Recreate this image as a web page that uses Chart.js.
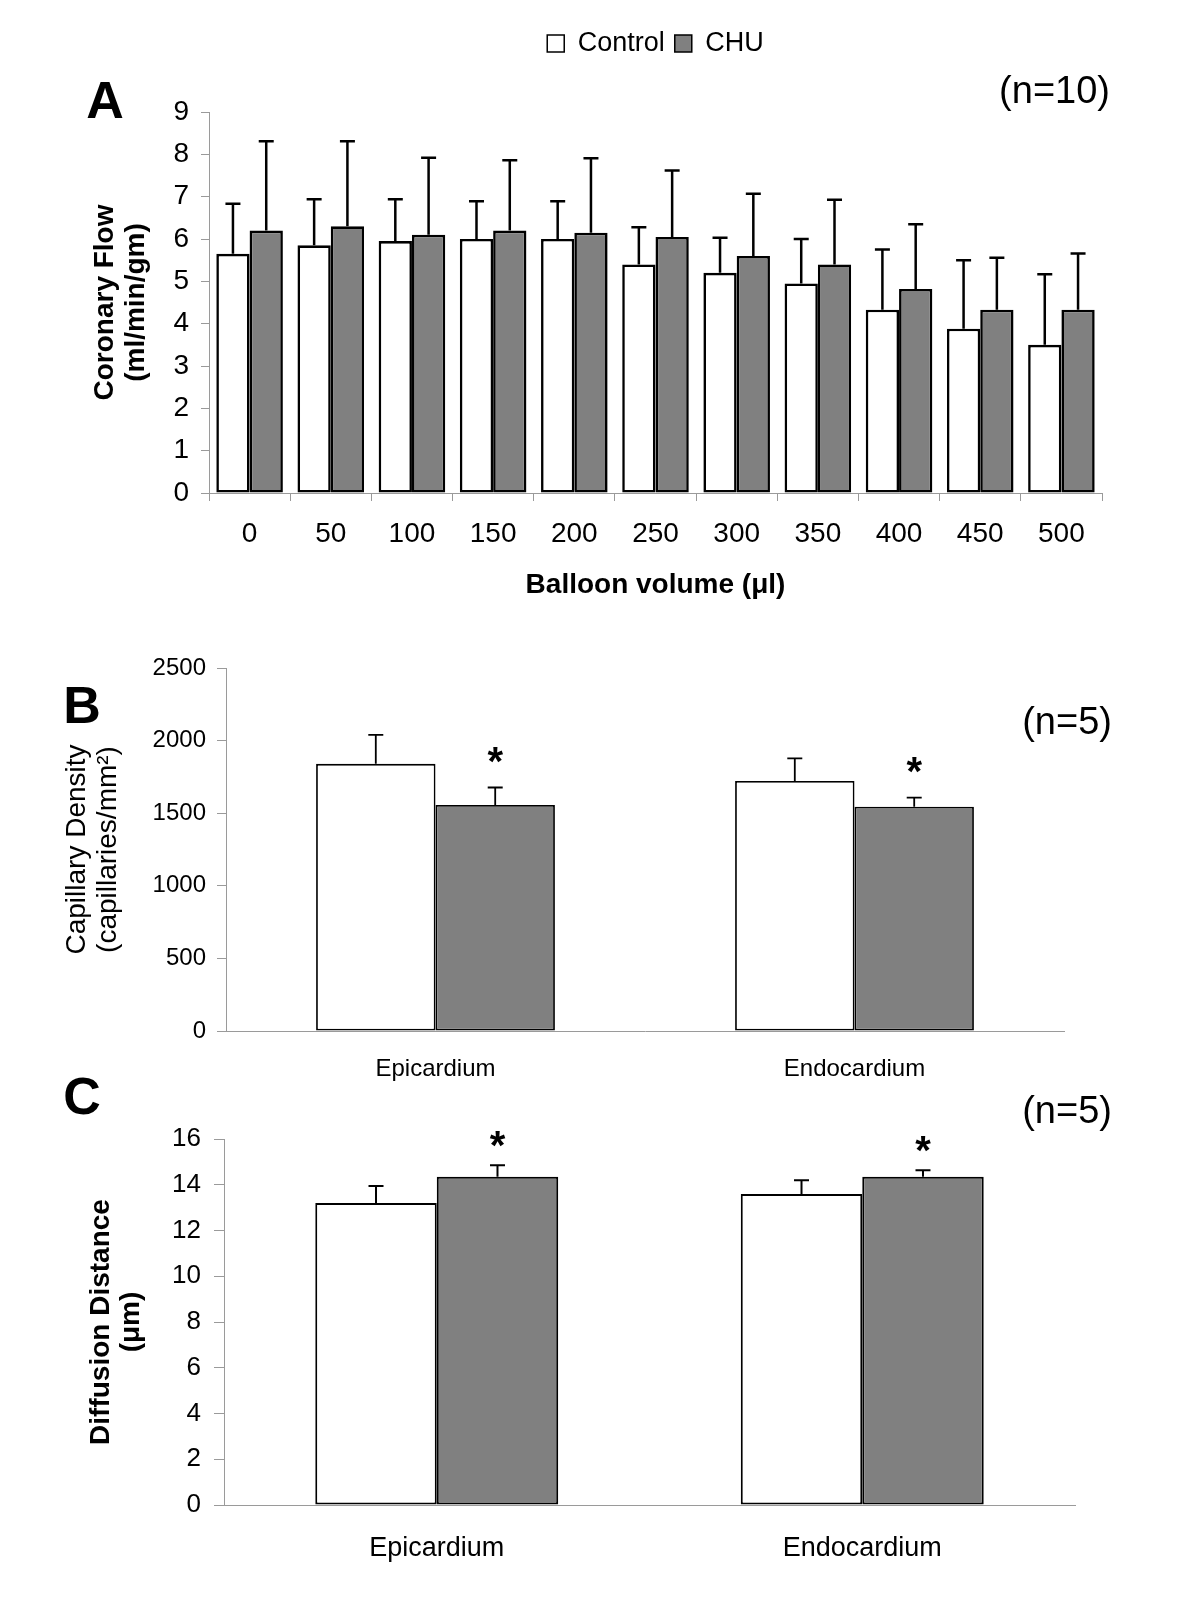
<!DOCTYPE html>
<html>
<head>
<meta charset="utf-8">
<script src="https://cdn.jsdelivr.net/npm/chart.js@4.4.0/dist/chart.umd.min.js"></script>
<style>
  body { margin: 0; background: #fff; }
  #fig { position: relative; width: 1200px; height: 1600px; font-family: "Liberation Sans", Arial, sans-serif; }
  .panel { position: absolute; left: 0; width: 1200px; }
  .txt { position: absolute; line-height: 1; color: #000; white-space: nowrap; }
  .letter { font-weight: bold; font-size: 52px; transform: translate(-50%, -50%); }
  .n { font-size: 38px; transform: translate(-100%, -50%); }
</style>
</head>
<body>
<div id="fig">
  <div class="panel" style="top:0;height:620px"><canvas id="chartA"></canvas></div>
  <div class="panel" style="top:620px;height:470px"><canvas id="chartB"></canvas></div>
  <div class="panel" style="top:1090px;height:510px"><canvas id="chartC"></canvas></div>

  <div class="txt letter" style="left:105px;top:100px">A</div>
  <div class="txt n" style="left:1110px;top:90px">(n=10)</div>
  <div class="txt letter" style="left:82px;top:705px">B</div>
  <div class="txt n" style="left:1112px;top:721px">(n=5)</div>
  <div class="txt letter" style="left:82px;top:1096px">C</div>
  <div class="txt n" style="left:1112px;top:1110px">(n=5)</div>
</div>
<script>
// panel A - coronary flow vs balloon volume
const balloonVolumes = ['0', '50', '100', '150', '200', '250', '300', '350', '400', '450', '500'];
const flowControl = [5.65, 5.85, 5.95, 6.0, 6.0, 5.4, 5.2, 4.95, 4.33, 3.88, 3.5];
const flowControlSem = [1.18, 1.09, 0.99, 0.89, 0.89, 0.88, 0.83, 1.05, 1.42, 1.62, 1.67];
const flowChu = [6.2, 6.3, 6.1, 6.2, 6.15, 6.05, 5.6, 5.4, 4.82, 4.33, 4.33];
const flowChuSem = [2.11, 2.01, 1.82, 1.66, 1.76, 1.57, 1.47, 1.53, 1.53, 1.23, 1.33];

// panel B - capillary density
const layers = ['Epicardium', 'Endocardium'];
const capControl = [1840, 1722];
const capControlSem = [200, 155];
const capChu = [1557, 1545];
const capChuSem = [120, 62];
const capChuStars = ['*', '*'];

// panel C - diffusion distance
const diffControl = [13.2, 13.6];
const diffControlSem = [0.74, 0.6];
const diffChu = [14.35, 14.35];
const diffChuSem = [0.5, 0.28];
const diffChuStars = ['*', '*'];

const FONT = '"Liberation Sans", Arial, sans-serif';
const AXIS_GREY = '#9a9a9a';
const CHU_GREY = '#808080';

Chart.defaults.font.family = FONT;
Chart.defaults.color = '#000';

// draws the upper SEM whisker (and the * if any) over each bar
const errorBars = {
  id: 'errorBars',
  afterDatasetsDraw(chart, args, opts) {
    const ctx = chart.ctx;
    const yScale = chart.scales.y;
    chart.data.datasets.forEach(function (ds, i) {
      if (!ds.sem) return;
      chart.getDatasetMeta(i).data.forEach(function (bar, j) {
        const top = yScale.getPixelForValue(ds.data[j] + ds.sem[j]);
        ctx.save();
        ctx.strokeStyle = '#000';
        ctx.lineWidth = opts.width;
        ctx.beginPath();
        ctx.moveTo(bar.x, bar.y);
        ctx.lineTo(bar.x, top);
        ctx.moveTo(bar.x - opts.cap / 2, top);
        ctx.lineTo(bar.x + opts.cap / 2, top);
        ctx.stroke();
        if (ds.stars && ds.stars[j]) {
          ctx.fillStyle = '#000';
          ctx.font = 'bold ' + opts.starSize + 'px ' + FONT;
          ctx.textAlign = 'center';
          ctx.textBaseline = 'alphabetic';
          // star sits at a fixed height over the plot when starY is given
          const cy = opts.starY !== undefined ? yScale.getPixelForValue(opts.starY[j]) : top - opts.starGap;
          ctx.fillText(ds.stars[j], bar.x, cy + 0.58 * opts.starSize);
        }
        ctx.restore();
      });
    });
  }
};

// legend sits high above the plot, so give it a fixed height
const LEGEND_HEIGHT = 92;
const legendGap = {
  id: 'legendGap',
  afterInit(chart) {
    const lg = chart.legend;
    if (!lg) return;
    const fit = lg.fit;
    lg.fit = function () {
      fit.call(this);
      this.height = LEGEND_HEIGHT;
    };
  }
};

function bars(label, data, sem, fill, width, stars) {
  return {
    label: label,
    data: data,
    sem: sem,
    stars: stars,
    backgroundColor: fill,
    borderColor: '#000',
    borderWidth: width,
    borderSkipped: false
  };
}

function yAxis(min, max, step, tickSize, tickLen, pad, title, titleBold, lineHeight, width) {
  return {
    min: min,
    max: max,
    ticks: {
      stepSize: step,
      color: '#000',
      font: {size: tickSize},
      padding: pad,
      callback: function (v) { return String(v); }
    },
    grid: {drawOnChartArea: false, drawTicks: true, tickLength: tickLen, color: AXIS_GREY},
    border: {color: AXIS_GREY, width: 1},
    title: {
      display: true,
      text: title,
      color: '#000',
      padding: 0,
      font: {size: 28, weight: titleBold ? 'bold' : 'normal', lineHeight: lineHeight}
    },
    afterFit: function (axis) { axis.width = width; }
  };
}

// A
new Chart(document.getElementById('chartA'), {
  type: 'bar',
  data: {
    labels: balloonVolumes,
    datasets: [
      bars('Control', flowControl, flowControlSem, '#fff', 2.6),
      bars('CHU', flowChu, flowChuSem, CHU_GREY, 2.6)
    ]
  },
  options: {
    responsive: true,
    maintainAspectRatio: false,
    animation: false,
    categoryPercentage: 0.82,
    barPercentage: 1.0,
    layout: {padding: {left: 90, right: 98, top: 20, bottom: 18}},
    plugins: {
      legend: {
        display: true,
        position: 'top',
        fullSize: false,
        labels: {
          boxWidth: 17,
          boxHeight: 17,
          padding: 10,
          color: '#000',
          font: {size: 27},
          generateLabels: function (chart) {
            return Chart.defaults.plugins.legend.labels.generateLabels(chart).map(function (l) {
              l.lineWidth = 1.5;
              return l;
            });
          }
        }
      },
      tooltip: {enabled: false},
      errorBars: {width: 2.5, cap: 15}
    },
    scales: {
      x: {
        ticks: {color: '#000', font: {size: 28}, padding: 16},
        grid: {drawOnChartArea: false, drawTicks: true, tickLength: 8, color: AXIS_GREY, offset: true},
        border: {color: AXIS_GREY},
        title: {display: true, text: 'Balloon volume (μl)', color: '#000', padding: 0, font: {size: 28, weight: 'bold'}},
        afterFit: function (axis) { axis.height = 109; }
      },
      y: yAxis(0, 9, 1, 28, 8, 12, ['Coronary Flow', '(ml/min/gm)'], true, 1.1, 119)
    }
  },
  plugins: [errorBars, legendGap]
});

// B
new Chart(document.getElementById('chartB'), {
  type: 'bar',
  data: {
    labels: layers,
    datasets: [
      bars('Control', capControl, capControlSem, '#fff', 1.8),
      bars('CHU', capChu, capChuSem, CHU_GREY, 1.8, capChuStars)
    ]
  },
  options: {
    responsive: true,
    maintainAspectRatio: false,
    animation: false,
    categoryPercentage: 0.57,
    barPercentage: 1.0,
    layout: {padding: {left: 62, right: 136, top: 48, bottom: 0}},
    plugins: {
      legend: {display: false},
      tooltip: {enabled: false},
      errorBars: {width: 1.8, cap: 15, starSize: 40, starGap: 36}
    },
    scales: {
      x: {
        ticks: {color: '#000', font: {size: 24}, padding: 24},
        grid: {display: false, drawTicks: false},
        border: {display: true, color: AXIS_GREY},
        afterFit: function (axis) { axis.height = 59; }
      },
      y: yAxis(0, 2500, 500, 24, 9, 11, ['Capillary Density', '(capillaries/mm²)'], false, 1.1, 164)
    }
  },
  plugins: [errorBars]
});

// C
new Chart(document.getElementById('chartC'), {
  type: 'bar',
  data: {
    labels: layers,
    datasets: [
      bars('Control', diffControl, diffControlSem, '#fff', 2),
      bars('CHU', diffChu, diffChuSem, CHU_GREY, 2, diffChuStars)
    ]
  },
  options: {
    responsive: true,
    maintainAspectRatio: false,
    animation: false,
    categoryPercentage: 0.571,
    barPercentage: 1.0,
    layout: {padding: {left: 87, right: 125, top: 49, bottom: 15}},
    plugins: {
      legend: {display: false},
      tooltip: {enabled: false},
      errorBars: {width: 2, cap: 15, starSize: 40, starGap: 30}
    },
    scales: {
      x: {
        ticks: {color: '#000', font: {size: 27}, padding: 27},
        grid: {display: false, drawTicks: false},
        border: {display: true, color: AXIS_GREY},
        afterFit: function (axis) { axis.height = 80; }
      },
      y: yAxis(0, 16, 2, 26, 10, 13, ['Diffusion Distance', '(μm)'], true, 1.05, 137)
    }
  },
  plugins: [errorBars]
});
</script>
</body>
</html>
